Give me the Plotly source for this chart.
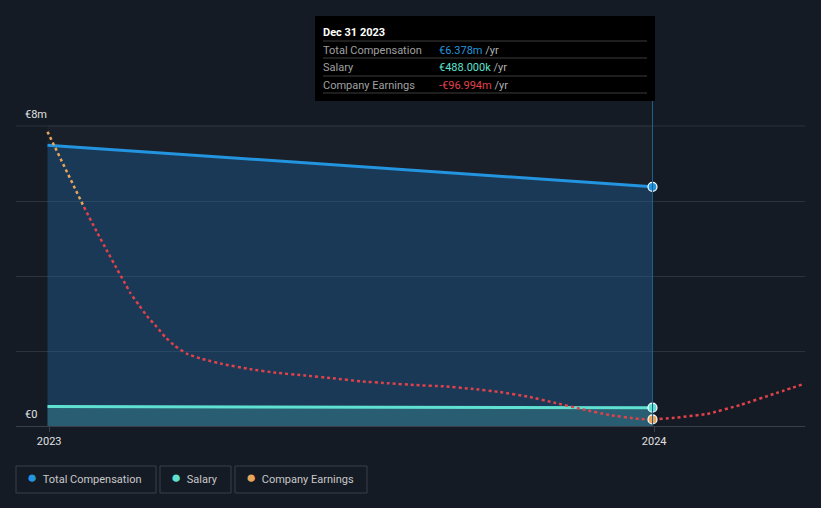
import plotly.graph_objects as go

# ---------------- data ----------------
comp_dates = ["2022-12-31", "2023-12-31"]
total_comp = [7.49, 6.378]          # €m
salary = [0.52, 0.488]              # €m

earn_dates = ["2022-12-31", "2023-01-11", "2023-01-22", "2023-01-30", "2023-02-05",
              "2023-02-11", "2023-02-15", "2023-02-19", "2023-02-24", "2023-03-01",
              "2023-03-07", "2023-03-12", "2023-03-18", "2023-03-25", "2023-04-02",
              "2023-04-06", "2023-04-15", "2023-05-02", "2023-05-18", "2023-06-04",
              "2023-06-21", "2023-07-08", "2023-07-25", "2023-08-10", "2023-08-27",
              "2023-09-13", "2023-09-30", "2023-10-17", "2023-11-02", "2023-11-19",
              "2023-12-05", "2023-12-22", "2023-12-31", "2024-01-12", "2024-02-02",
              "2024-02-22", "2024-03-13", "2024-03-30"]
earnings = [34.4, 16.9, 0.0, -11.7, -20.1,
            -28.4, -33.8, -39.3, -44.6, -49.8,
            -54.8, -59.4, -63.5, -67.0, -69.1,
            -69.9, -71.6, -74.0, -75.7, -76.9,
            -78.2, -79.6, -80.5, -81.3, -81.9,
            -83.0, -84.5, -86.6, -89.4, -92.4,
            -95.0, -96.7, -96.994, -96.35, -94.5,
            -90.4, -85.4, -81.1]  # €m

x_ticks = ["2023-01-01", "2024-01-01"]
x_tick_text = ["2023", "2024"]
y_ticks = [0, 2, 4, 6, 8]
y_label_vals = [0, 8]
y_label_text = ["€0", "€8m"]

BG = "#151b25"
BLUE = "#2394df"
TEAL = "#5fe0d0"
ORANGE = "#e8a65a"
RED = "#e0424b"
GRID = "#2c333d"

W, H = 821, 508
L, R, T, B = 16, 16, 125, 82
PH = H - T - B  # 301
def px(x):
    return (x - L) / (W - L - R)
def py(y):
    return (H - B - y) / PH

last = earn_dates.index("2023-12-31")
zero_i = earnings.index(0.0)

fig = go.Figure()

# total compensation area
fig.add_trace(go.Scatter(x=comp_dates, y=total_comp, mode="lines", fill="tozeroy",
                         fillcolor="rgba(30,140,230,0.24)",
                         line=dict(color=BLUE, width=3), hoverinfo="skip", yaxis="y"))
# salary area
fig.add_trace(go.Scatter(x=comp_dates, y=salary, mode="lines", fill="tozeroy",
                         fillcolor="rgba(95,224,208,0.22)",
                         line=dict(color=TEAL, width=3), hoverinfo="skip", yaxis="y"))

# earnings (secondary hidden scale) – positive part orange, negative part red
fig.add_trace(go.Scatter(x=earn_dates[:zero_i + 1], y=earnings[:zero_i + 1], mode="lines",
                         line=dict(color=ORANGE, width=2.5, dash="dot"),
                         hoverinfo="skip", yaxis="y2"))
fig.add_trace(go.Scatter(x=earn_dates[zero_i:], y=earnings[zero_i:], mode="lines",
                         line=dict(color=RED, width=2.5, dash="dot", shape="spline", smoothing=0.3),
                         hoverinfo="skip", yaxis="y2"))

# end markers
fig.add_trace(go.Scatter(x=[comp_dates[-1]], y=[total_comp[-1]], mode="markers",
                         marker=dict(color=BLUE, size=9, line=dict(color="white", width=1.2)),
                         hoverinfo="skip", yaxis="y"))
fig.add_trace(go.Scatter(x=[comp_dates[-1]], y=[salary[-1]], mode="markers",
                         marker=dict(color=TEAL, size=9, line=dict(color="white", width=1.2)),
                         hoverinfo="skip", yaxis="y"))
fig.add_trace(go.Scatter(x=[earn_dates[last]], y=[earnings[last]], mode="markers",
                         marker=dict(color=ORANGE, size=9, line=dict(color="white", width=1.2)),
                         hoverinfo="skip", yaxis="y2"))

shapes = []
# top gridline (plotly skips gridlines at the plot edge)
shapes.append(dict(type="line", xref="paper", yref="y", x0=0, x1=1, y0=y_ticks[-1], y1=y_ticks[-1],
                   line=dict(color=GRID, width=1), layer="below"))
# highlighted history region
shapes.append(dict(type="rect", xref="x", yref="paper", x0=comp_dates[0], x1=comp_dates[-1],
                   y0=0, y1=1, fillcolor="rgba(255,255,255,0.025)", line=dict(width=0), layer="below"))
# crosshair
shapes.append(dict(type="line", xref="x", yref="paper", x0=comp_dates[-1], x1=comp_dates[-1],
                   y0=0, y1=py(101), line=dict(color="#1f5f8f", width=1)))
# tooltip box
shapes.append(dict(type="rect", xref="paper", yref="paper", x0=px(315), x1=px(655),
                   y0=py(101), y1=py(16), fillcolor="#000000", line=dict(width=0)))
for yy in [41, 58, 76, 93]:
    shapes.append(dict(type="line", xref="paper", yref="paper", x0=px(323), x1=px(647),
                       y0=py(yy), y1=py(yy), line=dict(color="#3c3c3c", width=1)))

annotations = []
FONT = "Roboto, Noto Sans, sans-serif"

# y-axis labels sitting above their gridlines
for v, t in zip(y_label_vals, y_label_text):
    annotations.append(dict(xref="paper", yref="y", x=px(23), y=v, text=t, showarrow=False,
                            xanchor="left", yanchor="bottom", yshift=3,
                            font=dict(color="#e0e0e0", size=11, family=FONT)))

annotations.append(dict(xref="paper", yref="paper", x=px(321), y=py(32), text="<b>Dec 31 2023</b>",
                        showarrow=False, xanchor="left", yanchor="middle",
                        font=dict(color="white", size=11, family=FONT)))
rows = [("Total Compensation", f"€{total_comp[-1]:.3f}m", BLUE, 50),
        ("Salary", f"€{salary[-1]*1000:.3f}k", TEAL, 67),
        ("Company Earnings", f"-€{abs(earnings[last]):.3f}m", RED, 85)]
for lab, val, col, yy in rows:
    annotations.append(dict(xref="paper", yref="paper", x=px(321), y=py(yy), text=lab,
                            showarrow=False, xanchor="left", yanchor="middle",
                            font=dict(color="#a0a0a0", size=11, family=FONT)))
    annotations.append(dict(xref="paper", yref="paper", x=px(437), y=py(yy),
                            text=f"<span style='color:{col}'>{val}</span> /yr",
                            showarrow=False, xanchor="left", yanchor="middle",
                            font=dict(color="#b0b0b0", size=11, family=FONT)))

# legend boxes
legend_items = [("Total Compensation", BLUE, 16, 156), ("Salary", TEAL, 160, 231),
                ("Company Earnings", ORANGE, 235, 367)]
for lab, col, x0, x1 in legend_items:
    shapes.append(dict(type="rect", xref="paper", yref="paper", x0=px(x0), x1=px(x1),
                       y0=py(493), y1=py(466), line=dict(color="#3b414b", width=1),
                       fillcolor="rgba(0,0,0,0)"))
    annotations.append(dict(xref="paper", yref="paper", x=px(x0 + 9), y=py(477),
                            text=f"<span style='color:{col};font-size:17px'>●</span>&nbsp;&nbsp;{lab}",
                            showarrow=False, xanchor="left", yanchor="middle",
                            font=dict(color="#c8c8c8", size=11, family=FONT)))

fig.update_layout(
    width=W, height=H, paper_bgcolor=BG, plot_bgcolor=BG,
    margin=dict(l=L, r=R, t=T, b=B), showlegend=False,
    shapes=shapes, annotations=annotations,
    xaxis=dict(type="date", range=["2022-12-12", "2024-04-01"], tickvals=x_ticks,
               ticktext=x_tick_text, showgrid=False, showline=True, linecolor="#3a4049",
               linewidth=1, ticks="outside", tickcolor="#3a4049", ticklen=5,
               tickfont=dict(color="#e0e0e0", size=11, family=FONT), zeroline=False),
    yaxis=dict(range=[0, 8 * PH / 300], tickvals=y_ticks, showticklabels=False, showgrid=True,
               gridcolor=GRID, gridwidth=1, zeroline=False),
    yaxis2=dict(range=[-100, -100 + 137 * PH / 300], overlaying="y", visible=False,
                showgrid=False, zeroline=False),
)

fig.write_html("out.html")
